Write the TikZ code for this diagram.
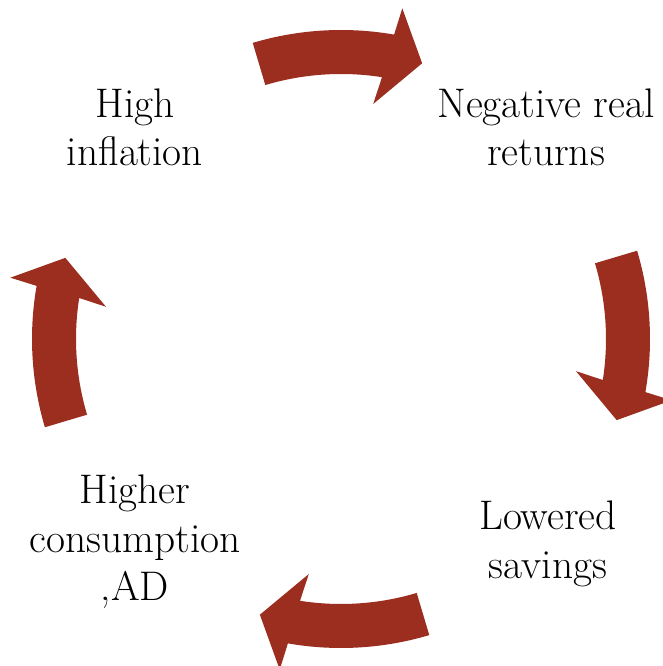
\documentclass[tikz,border=0pt]{standalone}
\usepackage{fontspec}
\definecolor{arrowred}{RGB}{156,46,32}
\begin{document}
\begin{tikzpicture}[x=0.75pt,y=0.75pt,
  label/.style={align=center,inner sep=0pt,text=black,
    font=\fontsize{31}{36.3}\selectfont},
  cyclearrow/.style={fill=arrowred,draw=none}]
\useasboundingbox (0,0) rectangle (662,666);

% four curved block arrows around the common centre, one per quarter turn
\foreach \turn in {0,90,180,270}{
  \begin{scope}[shift={(341,327)},rotate=-\turn]
    \fill[cyclearrow]
      (106.6:309) arc[start angle=106.6,end angle=80.1,radius=309]
      -- (79.5:336.3) -- (73.6:287.4) -- (82.2:237.2)
      -- (81.1:265) arc[start angle=81.1,end angle=106.6,radius=265]
      -- cycle;
  \end{scope}
}

% stages of the cycle
\node[label] (infl) at (135,538.5) {High\\inflation};
\node[label] (neg)  at (546,538.5) {Negative real\\returns};
\node[label] (sav)  at (548,122) {Lowered\\savings};
\node[label] (cons) at (135,124) {Higher\\consumption\\,AD};
\end{tikzpicture}
\end{document}
